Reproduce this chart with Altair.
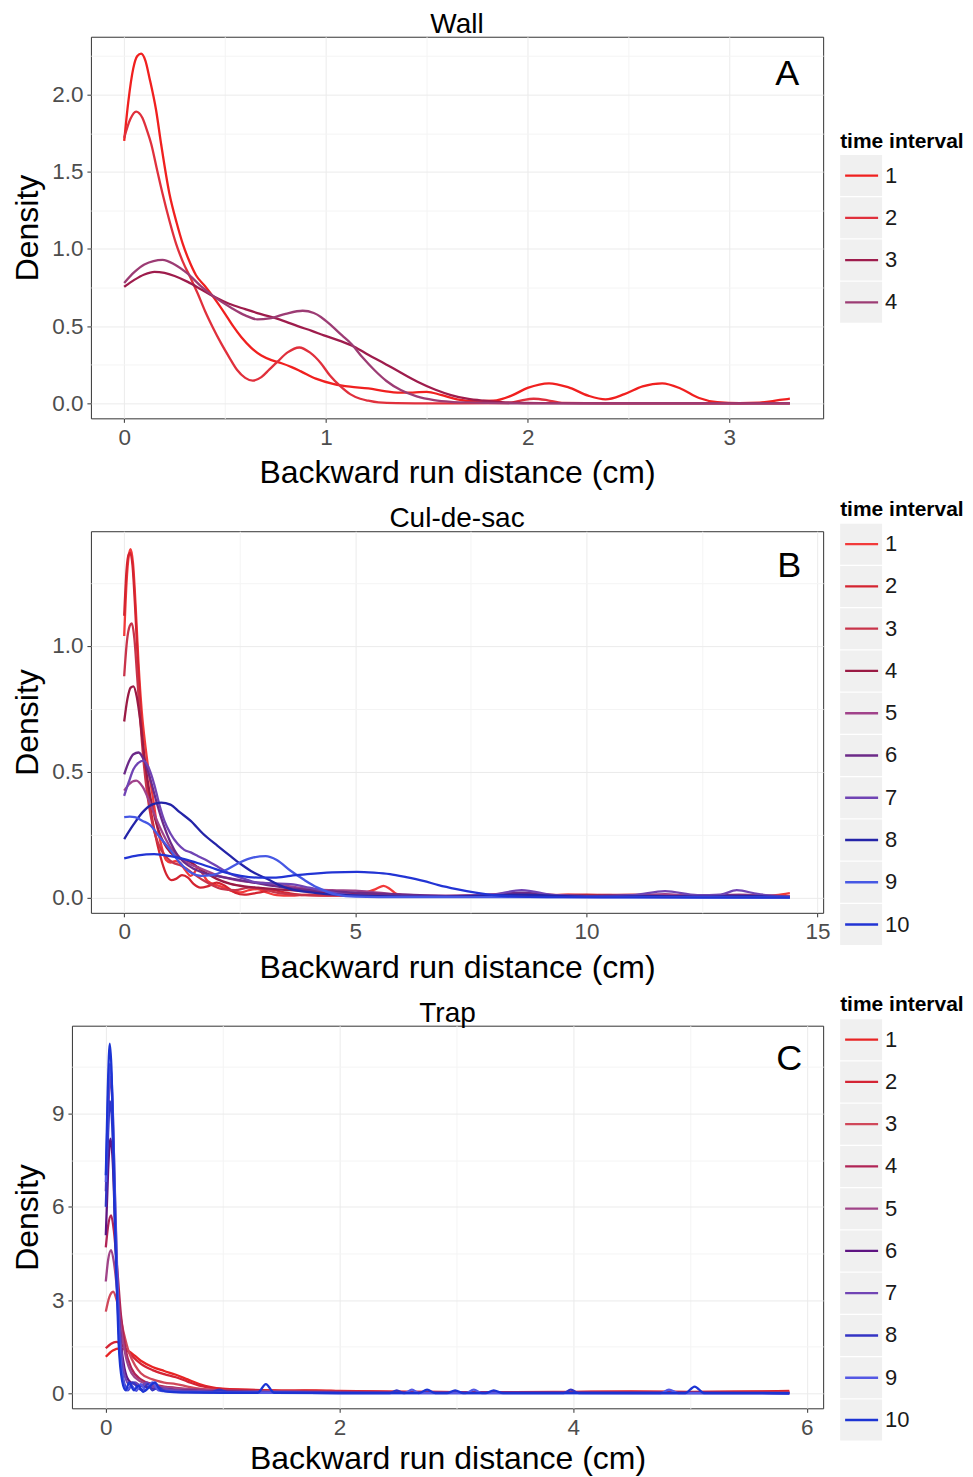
import altair as alt
import pandas as pd

FONT = "Liberation Sans"
X_TITLE = "Backward run distance (cm)"
Y_TITLE = "Density"
LEGEND_TITLE = "time interval"

# ---------------- panel A : Wall ----------------
WALL_COLORS = ["#f0201f", "#e0303c", "#9e1c4c", "#9c3c74"]
WALL_X_MAJOR = [0, 1, 2, 3]
WALL_X_MINOR = [0.5, 1.5, 2.5]
WALL_Y_MAJOR = [0, 0.5, 1.0, 1.5, 2.0]
WALL_Y_MINOR = [0.25, 0.75, 1.25, 1.75, 2.25]

wall_1 = [(0.00, 1.70), (0.02, 1.95), (0.045, 2.17), (0.065, 2.25), (0.084, 2.265), (0.105, 2.22),
          (0.125, 2.11), (0.158, 1.90), (0.183, 1.68), (0.224, 1.36), (0.26, 1.17), (0.29, 1.035),
          (0.32, 0.93), (0.356, 0.83), (0.40, 0.76), (0.447, 0.68), (0.50, 0.58), (0.54, 0.50),
          (0.58, 0.43), (0.63, 0.36), (0.68, 0.31), (0.73, 0.28), (0.78, 0.26), (0.83, 0.235),
          (0.876, 0.207), (0.95, 0.16), (1.04, 0.125), (1.12, 0.108), (1.21, 0.097), (1.29, 0.08),
          (1.355, 0.069), (1.43, 0.07), (1.50, 0.075), (1.57, 0.055), (1.65, 0.026), (1.73, 0.014),
          (1.83, 0.017), (1.92, 0.05), (2.00, 0.10), (2.106, 0.13), (2.20, 0.105), (2.30, 0.05),
          (2.386, 0.026), (2.48, 0.06), (2.57, 0.11), (2.667, 0.13), (2.76, 0.095), (2.85, 0.035),
          (2.94, 0.008), (3.05, 0.002), (3.15, 0.005), (3.25, 0.022), (3.30, 0.03)]
wall_2 = [(0.00, 1.72), (0.03, 1.84), (0.059, 1.89), (0.09, 1.85), (0.115, 1.76), (0.134, 1.68),
          (0.16, 1.53), (0.19, 1.36), (0.225, 1.18), (0.257, 1.035), (0.29, 0.92), (0.33, 0.81),
          (0.365, 0.71), (0.40, 0.60), (0.44, 0.49), (0.48, 0.39), (0.52, 0.30), (0.56, 0.216),
          (0.60, 0.165), (0.637, 0.147), (0.68, 0.17), (0.72, 0.22), (0.76, 0.27), (0.81, 0.33),
          (0.868, 0.362), (0.92, 0.33), (0.975, 0.26), (1.02, 0.18), (1.074, 0.108), (1.12, 0.06),
          (1.17, 0.03), (1.21, 0.017), (1.26, 0.006), (1.35, 0.001), (1.50, 0.0), (1.90, 0.002),
          (1.97, 0.02), (2.03, 0.03), (2.10, 0.02), (2.17, 0.003), (2.40, 0.0), (3.30, 0.0)]
wall_3 = [(0.00, 0.755), (0.05, 0.80), (0.10, 0.835), (0.15, 0.852), (0.20, 0.845), (0.25, 0.825),
          (0.315, 0.787), (0.38, 0.74), (0.447, 0.69), (0.52, 0.645), (0.60, 0.61), (0.66, 0.585),
          (0.728, 0.56), (0.80, 0.53), (0.86, 0.50), (0.93, 0.47), (0.99, 0.44), (1.07, 0.405),
          (1.14, 0.367), (1.21, 0.315), (1.29, 0.259), (1.37, 0.20), (1.454, 0.14), (1.54, 0.09),
          (1.62, 0.054), (1.70, 0.03), (1.78, 0.017), (1.87, 0.008), (1.95, 0.004), (2.10, 0.001),
          (2.40, 0.0), (3.30, 0.0)]
wall_4 = [(0.00, 0.78), (0.05, 0.85), (0.10, 0.90), (0.19, 0.93), (0.25, 0.90), (0.315, 0.84),
          (0.38, 0.76), (0.447, 0.69), (0.53, 0.62), (0.60, 0.57), (0.66, 0.544), (0.72, 0.55),
          (0.80, 0.58), (0.885, 0.60), (0.94, 0.585), (0.975, 0.56), (1.03, 0.50), (1.08, 0.44),
          (1.124, 0.388), (1.18, 0.30), (1.24, 0.216), (1.30, 0.145), (1.371, 0.086), (1.45, 0.045),
          (1.536, 0.021), (1.62, 0.01), (1.70, 0.006), (1.80, 0.003), (2.00, 0.0), (3.30, 0.0)]

# ---------------- panel B : Cul-de-sac ----------------
CUL_COLORS = ["#f23a3a", "#d42430", "#c8344a", "#9a1a44", "#a0428a",
              "#6c2a88", "#7044b4", "#2424a8", "#4658e4", "#2234d4"]
CUL_X_MAJOR = [0, 5, 10, 15]
CUL_X_MINOR = [2.5, 7.5, 12.5]
CUL_Y_MAJOR = [0, 0.5, 1.0]
CUL_Y_MINOR = [0.25, 0.75, 1.25]

cul_1 = [(0, 1.04), (0.05, 1.25), (0.10, 1.36), (0.14, 1.385), (0.19, 1.33), (0.25, 1.15), (0.31, 0.93),
         (0.38, 0.74), (0.46, 0.60), (0.54, 0.49), (0.62, 0.40), (0.70, 0.30), (0.80, 0.21), (0.905, 0.15),
         (1.0, 0.14), (1.1, 0.145), (1.2, 0.14), (1.32, 0.11), (1.44, 0.087), (1.52, 0.10), (1.59, 0.12),
         (1.68, 0.10), (1.80, 0.067), (2.0, 0.05), (2.16, 0.04), (2.35, 0.025), (2.52, 0.021), (2.7, 0.03),
         (2.88, 0.034), (3.1, 0.02), (3.3, 0.01), (3.6, 0.008), (4.0, 0.012), (4.4, 0.01), (4.8, 0.015),
         (5.2, 0.02), (5.45, 0.035), (5.61, 0.047), (5.75, 0.035), (5.89, 0.015), (6.2, 0.006), (7, 0.004),
         (8, 0.004), (9, 0.006), (9.6, 0.012), (10.2, 0.008), (11, 0.006), (12, 0.004), (13, 0.004),
         (13.8, 0.006), (14.1, 0.01), (14.4, 0.018)]
cul_2 = [(0, 1.12), (0.05, 1.30), (0.10, 1.365), (0.13, 1.37), (0.18, 1.32), (0.24, 1.14), (0.30, 0.92),
         (0.37, 0.70), (0.45, 0.52), (0.53, 0.40), (0.62, 0.30), (0.72, 0.21), (0.82, 0.14), (0.92, 0.09),
         (1.02, 0.07), (1.12, 0.075), (1.25, 0.09), (1.38, 0.08), (1.5, 0.055), (1.65, 0.04), (1.8, 0.045),
         (2.0, 0.06), (2.2, 0.045), (2.4, 0.02), (2.6, 0.012), (2.9, 0.02), (3.2, 0.03), (3.5, 0.02),
         (3.9, 0.01), (4.5, 0.008), (5, 0.01), (6, 0.006), (7, 0.004), (8, 0.006), (9, 0.01), (10, 0.012),
         (11, 0.008), (12, 0.006), (13, 0.004), (14.4, 0.002)]
cul_3 = [(0, 0.88), (0.06, 1.02), (0.12, 1.08), (0.165, 1.09), (0.22, 1.03), (0.28, 0.88), (0.35, 0.70),
         (0.42, 0.54), (0.50, 0.41), (0.58, 0.32), (0.68, 0.245), (0.80, 0.19), (0.92, 0.16), (1.05, 0.14),
         (1.2, 0.13), (1.35, 0.115), (1.5, 0.095), (1.7, 0.07), (1.9, 0.05), (2.1, 0.035), (2.4, 0.03),
         (2.7, 0.04), (3.0, 0.035), (3.3, 0.02), (3.7, 0.012), (4.2, 0.01), (5, 0.008), (6, 0.006),
         (7, 0.006), (8, 0.008), (9, 0.01), (10, 0.01), (11, 0.012), (12, 0.008), (13, 0.006), (14.4, 0.004)]
cul_4 = [(0, 0.70), (0.07, 0.79), (0.14, 0.835), (0.20, 0.84), (0.27, 0.80), (0.35, 0.70), (0.43, 0.57),
         (0.52, 0.45), (0.62, 0.35), (0.72, 0.28), (0.85, 0.22), (1.0, 0.18), (1.15, 0.16), (1.3, 0.15),
         (1.45, 0.14), (1.6, 0.12), (1.8, 0.095), (2.0, 0.075), (2.3, 0.055), (2.6, 0.045), (2.9, 0.04),
         (3.2, 0.035), (3.6, 0.03), (4.0, 0.025), (4.5, 0.02), (5, 0.015), (5.5, 0.01), (6.5, 0.006),
         (7.5, 0.008), (8.5, 0.012), (9.5, 0.01), (10.5, 0.008), (11.5, 0.01), (12.5, 0.008),
         (13.5, 0.006), (14.4, 0.004)]
cul_5 = [(0, 0.425), (0.1, 0.45), (0.26, 0.465), (0.4, 0.44), (0.55, 0.38), (0.7, 0.31), (0.85, 0.25),
         (1.0, 0.20), (1.2, 0.16), (1.4, 0.135), (1.6, 0.12), (1.8, 0.105), (2.0, 0.09), (2.3, 0.075),
         (2.6, 0.065), (2.9, 0.06), (3.2, 0.055), (3.6, 0.045), (4.0, 0.035), (4.5, 0.03), (5.0, 0.028),
         (5.5, 0.02), (6.0, 0.012), (6.8, 0.008), (7.6, 0.01), (8.6, 0.018), (9.4, 0.01), (10.2, 0.006),
         (11, 0.008), (11.7, 0.014), (12.3, 0.008), (13.3, 0.012), (14.4, 0.004)]
cul_6 = [(0, 0.49), (0.1, 0.54), (0.2, 0.57), (0.31, 0.577), (0.42, 0.55), (0.55, 0.48), (0.7, 0.38),
         (0.85, 0.29), (1.0, 0.22), (1.15, 0.17), (1.3, 0.14), (1.5, 0.115), (1.7, 0.10), (1.9, 0.09),
         (2.2, 0.08), (2.5, 0.07), (2.8, 0.06), (3.1, 0.05), (3.5, 0.04), (4.0, 0.03), (4.5, 0.025),
         (5.0, 0.02), (5.6, 0.015), (6.4, 0.01), (7.2, 0.006), (8, 0.01), (8.6, 0.02), (9.2, 0.01),
         (10, 0.006), (11, 0.008), (12, 0.006), (13, 0.01), (14.4, 0.003)]
cul_7 = [(0, 0.405), (0.1, 0.46), (0.2, 0.51), (0.3, 0.535), (0.42, 0.545), (0.52, 0.52), (0.65, 0.45),
         (0.76, 0.37), (0.87, 0.305), (1.0, 0.255), (1.16, 0.213), (1.3, 0.19), (1.44, 0.18), (1.6, 0.165),
         (1.8, 0.147), (2.05, 0.12), (2.3, 0.094), (2.6, 0.075), (2.88, 0.06), (3.2, 0.057), (3.6, 0.054),
         (4.0, 0.04), (4.32, 0.027), (4.7, 0.015), (5.2, 0.008), (6, 0.006), (7, 0.006), (7.9, 0.01),
         (8.6, 0.03), (9.3, 0.01), (10, 0.006), (11, 0.01), (11.7, 0.026), (12.4, 0.01), (12.9, 0.012),
         (13.25, 0.03), (13.7, 0.015), (14.4, 0.003)]
cul_8 = [(0, 0.233), (0.2, 0.29), (0.4, 0.34), (0.6, 0.37), (0.8, 0.378), (1.0, 0.37), (1.2, 0.34),
         (1.44, 0.305), (1.7, 0.255), (2.02, 0.206), (2.3, 0.165), (2.52, 0.134), (2.8, 0.10), (3.1, 0.074),
         (3.35, 0.05), (3.6, 0.034), (4.0, 0.022), (4.32, 0.015), (4.8, 0.01), (5.5, 0.006), (6.5, 0.004),
         (7.5, 0.006), (8.6, 0.012), (9.5, 0.006), (10.5, 0.004), (11.5, 0.006), (12.5, 0.004),
         (13.5, 0.006), (14.4, 0.002)]
cul_9 = [(0, 0.32), (0.12, 0.322), (0.23, 0.32), (0.4, 0.305), (0.55, 0.29), (0.75, 0.245), (1.01, 0.186),
         (1.2, 0.14), (1.44, 0.10), (1.66, 0.087), (1.9, 0.09), (2.2, 0.11), (2.5, 0.14), (2.8, 0.16),
         (3.06, 0.165), (3.3, 0.15), (3.6, 0.107), (3.9, 0.07), (4.17, 0.041), (4.6, 0.012), (5.0, 0.004),
         (6, 0.002), (8, 0.002), (10, 0.002), (12, 0.002), (14.4, 0.001)]
cul_10 = [(0, 0.156), (0.3, 0.168), (0.65, 0.173), (1.0, 0.165), (1.3, 0.153), (1.6, 0.137), (1.88, 0.12),
          (2.2, 0.10), (2.52, 0.087), (2.9, 0.08), (3.24, 0.08), (3.6, 0.087), (3.96, 0.094), (4.5, 0.101),
          (5.04, 0.103), (5.4, 0.10), (5.75, 0.094), (6.1, 0.082), (6.47, 0.067), (6.8, 0.05), (7.19, 0.034),
          (7.6, 0.02), (8.0, 0.01), (8.6, 0.004), (9.5, 0.002), (11, 0.001), (14.4, 0.0)]

# ---------------- panel C : Trap ----------------
TRAP_COLORS = ["#e82424", "#d42434", "#d0485a", "#b02456", "#a04488",
               "#5e1482", "#7044b4", "#3434c4", "#5458e4", "#1c34d4"]
TRAP_X_MAJOR = [0, 2, 4, 6]
TRAP_X_MINOR = [1, 3, 5]
TRAP_Y_MAJOR = [0, 3, 6, 9]
TRAP_Y_MINOR = [1.5, 4.5, 7.5, 10.5]

trap_1 = [(0, 1.18), (0.06, 1.38), (0.12, 1.45), (0.2, 1.35), (0.3, 1.05), (0.4, 0.85), (0.5, 0.72),
          (0.6, 0.60), (0.7, 0.45), (0.8, 0.30), (0.9, 0.20), (1.0, 0.15), (1.2, 0.12), (1.4, 0.10),
          (1.6, 0.09), (1.8, 0.10), (2.0, 0.08), (2.3, 0.06), (2.6, 0.05), (3.0, 0.04), (3.5, 0.04),
          (4.0, 0.05), (4.5, 0.06), (5.0, 0.05), (5.5, 0.06), (5.85, 0.08)]
trap_2 = [(0, 1.45), (0.045, 1.60), (0.09, 1.66), (0.15, 1.52), (0.22, 1.22), (0.3, 0.95), (0.4, 0.75),
          (0.5, 0.62), (0.6, 0.52), (0.7, 0.38), (0.8, 0.25), (0.9, 0.18), (1.0, 0.14), (1.2, 0.11),
          (1.5, 0.09), (1.8, 0.08), (2.2, 0.06), (2.6, 0.05), (3.0, 0.04), (3.5, 0.03), (4.0, 0.04),
          (4.5, 0.05), (5.0, 0.04), (5.5, 0.05), (5.85, 0.06)]
trap_3 = [(0, 2.63), (0.03, 3.10), (0.063, 3.27), (0.10, 2.90), (0.15, 2.0), (0.2, 1.3), (0.25, 0.9),
          (0.3, 0.65), (0.4, 0.45), (0.5, 0.35), (0.6, 0.30), (0.7, 0.22), (0.8, 0.15), (1.0, 0.10),
          (1.3, 0.07), (1.6, 0.06), (2.0, 0.05), (2.5, 0.04), (3, 0.03), (4, 0.03), (5, 0.03), (5.85, 0.03)]
trap_4 = [(0, 4.7), (0.02, 5.4), (0.045, 5.73), (0.07, 5.2), (0.10, 3.9), (0.13, 2.5), (0.17, 1.4),
          (0.22, 0.8), (0.3, 0.45), (0.4, 0.30), (0.5, 0.22), (0.6, 0.18), (0.8, 0.12), (1.0, 0.10),
          (1.3, 0.08), (1.7, 0.06), (2.2, 0.04), (3, 0.03), (4, 0.03), (5, 0.025), (5.85, 0.02)]
trap_5 = [(0, 3.6), (0.02, 4.3), (0.045, 4.61), (0.07, 4.2), (0.10, 3.2), (0.13, 2.1), (0.17, 1.2),
          (0.22, 0.65), (0.3, 0.38), (0.4, 0.25), (0.5, 0.20), (0.6, 0.16), (0.8, 0.12), (1.0, 0.09),
          (1.3, 0.07), (1.7, 0.05), (2.2, 0.04), (3, 0.03), (4, 0.02), (5, 0.02), (5.85, 0.015)]
trap_6 = [(0, 5.09), (0.02, 7.2), (0.04, 8.2), (0.06, 7.4), (0.08, 5.3), (0.10, 3.3), (0.13, 1.6),
          (0.16, 0.8), (0.2, 0.4), (0.25, 0.3), (0.3, 0.25), (0.4, 0.18), (0.5, 0.14), (0.6, 0.10),
          (0.8, 0.08), (1.0, 0.06), (1.5, 0.04), (2, 0.03), (3, 0.02), (4, 0.02), (5, 0.02), (5.85, 0.01)]
trap_7 = [(0, 6.5), (0.02, 9.0), (0.04, 10.2), (0.06, 9.0), (0.08, 6.2), (0.10, 3.6), (0.13, 1.5),
          (0.16, 0.6), (0.2, 0.3), (0.25, 0.35), (0.3, 0.25), (0.35, 0.35), (0.4, 0.2), (0.5, 0.15),
          (0.6, 0.10), (0.8, 0.07), (1.0, 0.05), (1.5, 0.03), (2, 0.02), (3, 0.015), (4, 0.015), (5, 0.01),
          (5.85, 0.005)]
trap_8 = [(0, 6.0), (0.02, 8.4), (0.035, 9.4), (0.055, 8.6), (0.075, 6.0), (0.10, 3.0), (0.13, 1.0),
          (0.16, 0.3), (0.19, 0.1), (0.23, 0.35), (0.27, 0.2), (0.31, 0.1), (0.36, 0.3), (0.40, 0.1),
          (0.45, 0.2), (0.5, 0.08), (0.6, 0.05), (0.8, 0.04), (0.9, 0.03), (0.97, 0.12), (1.05, 0.03),
          (1.3, 0.02), (1.5, 0.02), (2, 0.01), (2.43, 0.01), (2.49, 0.1), (2.55, 0.01), (3, 0.01),
          (3.92, 0.01), (3.98, 0.12), (4.05, 0.01), (5.85, 0.005)]
trap_9 = [(0, 6.8), (0.02, 9.6), (0.035, 10.6), (0.055, 9.7), (0.075, 6.8), (0.10, 3.3), (0.12, 1.4),
          (0.15, 0.4), (0.18, 0.1), (0.22, 0.25), (0.26, 0.08), (0.30, 0.3), (0.34, 0.1), (0.40, 0.35),
          (0.45, 0.1), (0.55, 0.06), (0.7, 0.04), (0.9, 0.03), (1.2, 0.02), (1.5, 0.02), (2, 0.01),
          (2.56, 0.01), (2.62, 0.12), (2.68, 0.01), (3.08, 0.01), (3.15, 0.12), (3.22, 0.01), (4.75, 0.01),
          (4.82, 0.12), (4.9, 0.01), (5.85, 0.005)]
trap_10 = [(0, 7.02), (0.017, 9.8), (0.034, 11.25), (0.05, 10.3), (0.07, 7.0), (0.09, 3.8), (0.11, 1.6),
           (0.14, 0.4), (0.17, 0.1), (0.20, 0.35), (0.24, 0.1), (0.28, 0.25), (0.32, 0.05), (0.37, 0.2),
           (0.42, 0.35), (0.47, 0.1), (0.55, 0.05), (0.7, 0.03), (1.0, 0.02), (1.3, 0.02), (1.37, 0.3),
           (1.44, 0.02), (2, 0.01), (2.68, 0.01), (2.75, 0.12), (2.82, 0.01), (2.92, 0.01), (2.99, 0.1),
           (3.06, 0.01), (3.25, 0.01), (3.32, 0.1), (3.40, 0.01), (4.96, 0.01), (5.04, 0.22), (5.12, 0.01),
           (5.85, 0.005)]

MAJOR_GRID = "#ebebeb"
MINOR_GRID = "#f4f4f4"
TICK_COLOR = "#333333"
STEP = 42.3
TICK_LABEL_SIZE = 22.5
LEGEND_SIZE = 22
LEGEND_TITLE_SIZE = 21


def make_panel(title, letter, curves, colors, xdom, ydom, xmaj, xmin, ymaj, ymin,
               xfmt, yfmt, width, height, leg_first, leg_title_y, letter_xy, xpad=9):
    n = len(curves)
    rows = [{"interval": i + 1, "x": x, "y": y} for i, c in enumerate(curves) for (x, y) in c]
    df = pd.DataFrame(rows)
    ints = list(range(1, n + 1))
    cscale = alt.Scale(domain=ints, range=colors)

    xtest = "indexof([%s], datum.value) >= 0" % ",".join(str(v) for v in xmaj)
    ytest = "indexof([%s], datum.value) >= 0" % ",".join(str(v) for v in ymaj)

    def axis(vals, test, fmt, ttl, pad):
        return alt.Axis(
            values=sorted(vals), title=ttl, format=fmt,
            labelExpr="%s ? datum.label : ''" % test,
            gridColor={"condition": {"test": test, "value": MAJOR_GRID}, "value": MINOR_GRID},
            tickColor={"condition": {"test": test, "value": TICK_COLOR}, "value": "transparent"},
            domain=False, labelFlush=False, labelOverlap=False, tickSize=4,
            labelPadding=4, titlePadding=pad)

    lines = alt.Chart(df).mark_line(strokeWidth=2.3, interpolate="monotone").encode(
        x=alt.X("x:Q", scale=alt.Scale(domain=xdom, nice=False, zero=False),
                axis=axis(xmaj + xmin, xtest, xfmt, X_TITLE, xpad)),
        y=alt.Y("y:Q", scale=alt.Scale(domain=ydom, nice=False, zero=False),
                axis=axis(ymaj + ymin, ytest, yfmt, Y_TITLE, 7)),
        color=alt.Color("interval:N", scale=cscale, legend=None),
    )

    leg = pd.DataFrame({"interval": ints, "label": [str(i) for i in ints]})
    lscale = alt.Scale(domain=[1, n], range=[leg_first, leg_first + (n - 1) * STEP])
    bx = width + 17

    boxes = alt.Chart(leg).transform_calculate(
        y0="datum.interval - 0.485", y1="datum.interval + 0.485"
    ).mark_rect(color="#f0f0f0").encode(
        x=alt.value(bx), x2=alt.value(bx + 42),
        y=alt.Y("y0:Q", scale=lscale, axis=None), y2="y1:Q")
    keys = alt.Chart(leg).mark_rule(strokeWidth=2.3).encode(
        x=alt.value(bx + 5), x2=alt.value(bx + 38),
        y=alt.Y("interval:Q", scale=lscale, axis=None),
        color=alt.Color("interval:N", scale=cscale, legend=None))
    labels = alt.Chart(leg).mark_text(align="left", baseline="middle", fontSize=LEGEND_SIZE,
                                      font=FONT, color="#1a1a1a").encode(
        x=alt.value(bx + 45), y=alt.Y("interval:Q", scale=lscale, axis=None), text="label:N")
    ltitle = alt.Chart(pd.DataFrame({"t": [LEGEND_TITLE]})).mark_text(
        align="left", baseline="middle", fontSize=LEGEND_TITLE_SIZE, fontWeight="bold", font=FONT,
        color="#000000").encode(x=alt.value(bx), y=alt.value(leg_title_y), text="t:N")
    corner = alt.Chart(pd.DataFrame({"t": [letter]})).mark_text(
        align="center", baseline="middle", fontSize=36, font=FONT, color="#000000").encode(
        x=alt.value(letter_xy[0]), y=alt.value(letter_xy[1]), text="t:N")
    head = alt.Chart(pd.DataFrame({"t": [title]})).mark_text(
        align="center", baseline="alphabetic", fontSize=28, font=FONT, color="#000000").encode(
        x=alt.value(width / 2), y=alt.value(-4), text="t:N")

    return alt.layer(lines, boxes, keys, labels, ltitle, corner, head).resolve_scale(
        y="independent").properties(width=width, height=height)


def spacer(w):
    return alt.Chart(pd.DataFrame({"v": [0]})).mark_point(opacity=0).encode(
        x=alt.value(0), y=alt.value(0)).properties(
        width=w, height=2, view=alt.ViewBackground(stroke="transparent", strokeWidth=0))


panel_a = make_panel("Wall", "A", [wall_1, wall_2, wall_3, wall_4], WALL_COLORS,
                     [-0.165, 3.465], [-0.097, 2.375], WALL_X_MAJOR, WALL_X_MINOR,
                     WALL_Y_MAJOR, WALL_Y_MINOR, ".0f", ".1f", 733, 382, 139, 105, (697, 37))
panel_b = make_panel("Cul-de-sac", "B",
                     [cul_1, cul_2, cul_3, cul_4, cul_5, cul_6, cul_7, cul_8, cul_9, cul_10],
                     CUL_COLORS, [-0.72, 15.12], [-0.06, 1.456], CUL_X_MAJOR, CUL_X_MINOR,
                     CUL_Y_MAJOR, CUL_Y_MINOR, ".0f", ".1f", 733, 382, 13, -21, (699, 35))
panel_c = make_panel("Trap", "C",
                     [trap_1, trap_2, trap_3, trap_4, trap_5, trap_6, trap_7, trap_8, trap_9, trap_10],
                     TRAP_COLORS, [-0.29, 6.14], [-0.48, 11.83], TRAP_X_MAJOR, TRAP_X_MINOR,
                     TRAP_Y_MAJOR, TRAP_Y_MINOR, ".0f", ".0f", 752, 383, 14, -21, (718, 33), xpad=5)

row_a = alt.hconcat(spacer(19), panel_a, spacing=0, bounds="flush")
row_b = alt.hconcat(spacer(19), panel_b, spacing=0, bounds="flush")

chart = alt.vconcat(row_a, row_b, panel_c, spacing=9).resolve_scale(
    color="independent"
).properties(
    padding={"left": 2, "top": 1, "right": 0, "bottom": 0}
).configure(font=FONT).configure_view(
    stroke="#333333", strokeWidth=1
).configure_axis(
    labelFont=FONT, titleFont=FONT, labelFontSize=TICK_LABEL_SIZE, titleFontSize=32,
    labelColor="#4d4d4d", titleColor="#000000", titleFontWeight="normal", gridWidth=1
)

chart.save("out.html", embed_options={"renderer": "svg", "actions": False})
